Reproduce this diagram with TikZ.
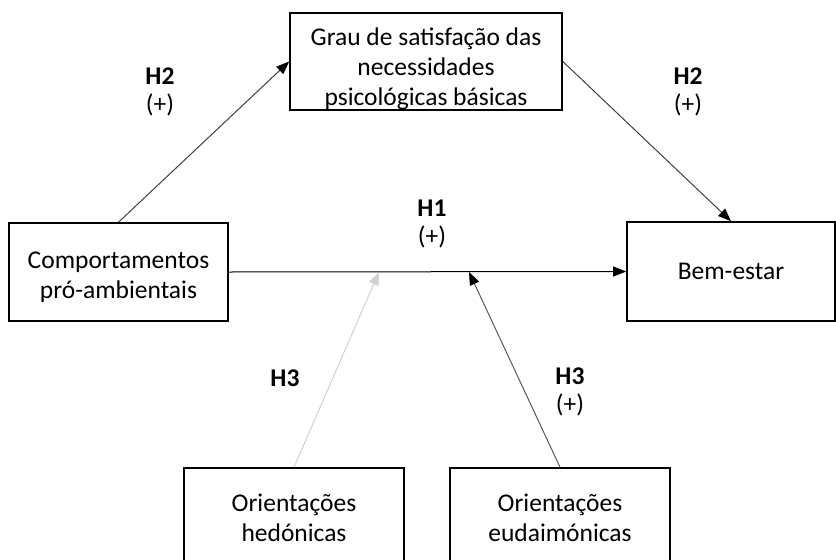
\documentclass[tikz,border=0pt]{standalone}
\usepackage{fontspec}
\setmainfont{Carlito}
\usetikzlibrary{arrows.meta}
\begin{document}
\begin{tikzpicture}[x=1pt,y=-1pt,
  box/.style={draw=black,line width=1.6pt,inner sep=0pt,align=center,
    font=\fontsize{25.5}{30}\selectfont},
  lab/.style={align=center,font=\fontsize{25.5}{28}\selectfont},
  conn/.style={line width=1pt},
  tip/.style={-{Triangle[length=13pt,width=10pt,color=#1,fill=#1]}},
]
\clip (0,0) rectangle (836,560);
\useasboundingbox (0,0) rectangle (836,560);
\fill[white] (0,0) rectangle (836,560);
\node[box,minimum width=272pt,minimum height=97pt] (tb) at (426,61.5)
  {\rule{0pt}{33pt}Grau de satisfação das\\necessidades\\psicológicas básicas};
\node[box,minimum width=219pt,minimum height=98pt] (lb) at (118.5,272)
  {\rule{0pt}{27pt}Comportamentos\\pró-ambientais};
\node[box,minimum width=208pt,minimum height=99pt] (be) at (731,271.5)
  {Bem-estar};
\node[box,minimum width=220pt,minimum height=100pt] (hed) at (294,518)
  {Orientações\\hedónicas};
\node[box,minimum width=220pt,minimum height=100pt] (eud) at (560,518)
  {Orientações\\eudaimónicas};
\coordinate (m1) at (379,272);
\coordinate (m2) at (469,272);
\draw[conn,draw=black!75,tip=black] (lb.north) -- (tb.west);
\draw[conn,draw=black!75,tip=black] (tb.east) -- (be.north);
\draw[conn,draw=black,tip=black] (lb.east) -- (be.west);
\draw[conn,draw=black!18,tip=black!18] (hed.north) -- (m1);
\draw[conn,draw=black!65,tip=black] (eud.north) -- (m2);
\node[lab] (h2a) at (160,92) {\textbf{H2}\\(+)};
\node[lab] (h2b) at (688,92) {\textbf{H2}\\(+)};
\node[lab] (h1) at (432,224) {\textbf{H1}\\(+)};
\node[lab] (h3a) at (285,378) {\textbf{H3}};
\node[lab] (h3b) at (570,392) {\textbf{H3}\\(+)};
\end{tikzpicture}
\end{document}
